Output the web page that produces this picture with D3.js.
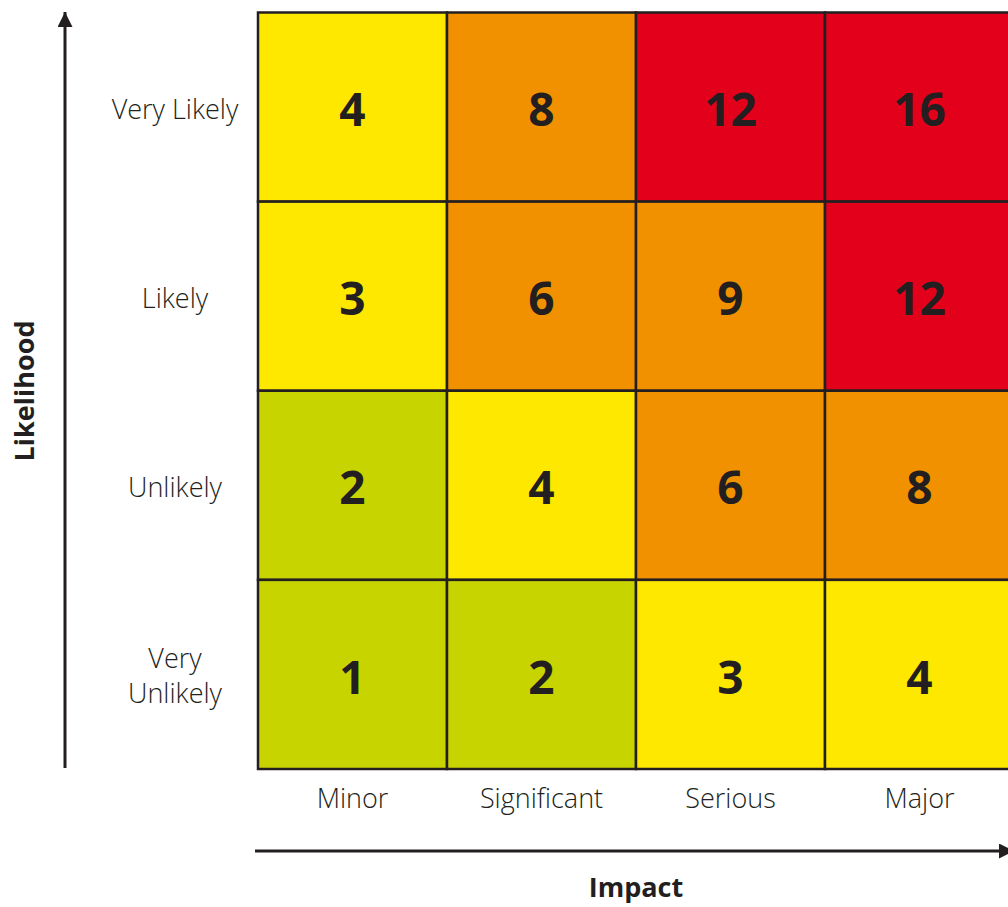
<!DOCTYPE html>
<html>
<head>
<meta charset="utf-8">
<script src="https://cdn.jsdelivr.net/npm/d3@7"></script>
<style>
  body { margin: 0; background: #fff; }
  text { font-family: "Open Sans", "Noto Sans", sans-serif; fill: #231f20; }
</style>
</head>
<body>
<script>
// impact across, likelihood down (top row first)
var impacts = ["Minor", "Significant", "Serious", "Major"];
var likelihoods = ["Very Likely", "Likely", "Unlikely", "Very Unlikely"];
var scores = [
  [4, 8, 12, 16],
  [3, 6, 9, 12],
  [2, 4, 6, 8],
  [1, 2, 3, 4]
];
var bands = ["low", "medium", "high", "extreme"];
var bandColors = ["#c8d400", "#ffe800", "#f29100", "#e2001a"];

function band(score)
{
  if (score <= 2) return "low";
  if (score <= 4) return "medium";
  if (score <= 9) return "high";
  return "extreme";
}

window.onload = drawMatrix

function drawMatrix()
{
  var width = 1008, height = 907;
  var svg = d3.select("body").append("svg")
              .attr("width", width)
              .attr("height", height);

  var x = d3.scaleBand().domain(impacts).range([258, 1014]);
  var y = d3.scaleBand().domain(likelihoods).range([12.5, 769]);
  var color = d3.scaleOrdinal().domain(bands).range(bandColors);

  var cells = [];
  likelihoods.forEach(function(l, i)
  {
    impacts.forEach(function(m, j)
    {
      cells.push({likelihood: l, impact: m, score: scores[i][j]});
    });
  });

  var g = svg.append("g");
  g.selectAll("rect").data(cells).enter().append("rect")
   .attr("x", function(d) { return x(d.impact); })
   .attr("y", function(d) { return y(d.likelihood); })
   .attr("width", x.bandwidth())
   .attr("height", y.bandwidth())
   .attr("fill", function(d) { return color(band(d.score)); })
   .attr("stroke", "#231f20")
   .attr("stroke-width", 2.5);

  g.selectAll(".score").data(cells).enter().append("text")
   .attr("class", "score")
   .attr("x", function(d) { return x(d.impact) + x.bandwidth() / 2; })
   .attr("y", function(d) { return y(d.likelihood) + y.bandwidth() / 2 + 3; })
   .attr("dy", "0.35em")
   .attr("text-anchor", "middle")
   .style("font-size", "46px")
   .style("font-weight", "bold")
   .text(function(d) { return d.score; });

  // row labels
  likelihoods.forEach(function(l)
  {
    var words = l === "Very Unlikely" ? ["Very", "Unlikely"] : [l];
    var t = svg.append("text")
               .attr("text-anchor", "middle")
               .style("font-size", "27px")
               .style("font-weight", 300);
    words.forEach(function(w, k)
    {
      t.append("tspan")
       .attr("x", 175)
       .attr("y", y(l) + y.bandwidth() / 2 + 2 + (k - (words.length - 1) / 2) * 35)
       .attr("dy", "0.35em")
       .text(w);
    });
  });

  // column labels
  svg.selectAll(".col").data(impacts).enter().append("text")
     .attr("class", "col")
     .attr("x", function(d) { return x(d) + x.bandwidth() / 2; })
     .attr("y", 799)
     .attr("dy", "0.35em")
     .attr("text-anchor", "middle")
     .style("font-size", "27px")
     .style("font-weight", 300)
     .text(function(d) { return d; });

  // arrows
  var defs = svg.append("defs");
  defs.append("marker")
      .attr("id", "head")
      .attr("viewBox", "0 0 10 10")
      .attr("refX", 10).attr("refY", 5)
      .attr("markerWidth", 5).attr("markerHeight", 5)
      .attr("markerUnits", "strokeWidth")
      .attr("orient", "auto")
      .append("path").attr("d", "M0,0L10,5L0,10Z").attr("fill", "#231f20");

  svg.append("line")
     .attr("x1", 65).attr("y1", 768)
     .attr("x2", 65).attr("y2", 12)
     .attr("stroke", "#231f20").attr("stroke-width", 3)
     .attr("marker-end", "url(#head)");

  svg.append("line")
     .attr("x1", 255).attr("y1", 851)
     .attr("x2", 1014).attr("y2", 851)
     .attr("stroke", "#231f20").attr("stroke-width", 3)
     .attr("marker-end", "url(#head)");

  // axis titles
  svg.append("text")
     .attr("transform", "translate(25,391) rotate(-90)")
     .attr("dy", "0.35em")
     .attr("text-anchor", "middle")
     .style("font-size", "27px")
     .style("font-weight", "bold")
     .text("Likelihood");

  svg.append("text")
     .attr("x", 636).attr("y", 888)
     .attr("dy", "0.35em")
     .attr("text-anchor", "middle")
     .style("font-size", "27px")
     .style("font-weight", "bold")
     .text("Impact");
}
</script>
</body>
</html>
